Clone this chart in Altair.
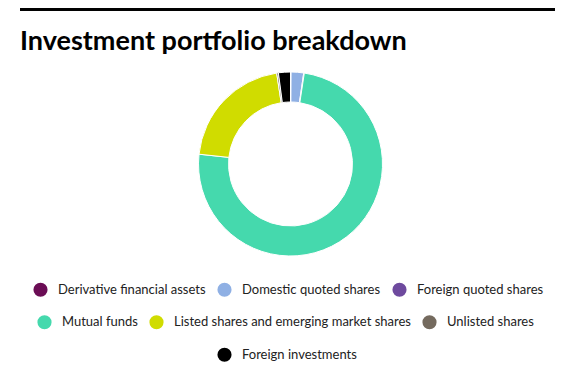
import altair as alt
import pandas as pd

categories = [
    "Derivative financial assets",
    "Domestic quoted shares",
    "Foreign quoted shares",
    "Mutual funds",
    "Listed shares and emerging market shares",
    "Unlisted shares",
    "Foreign investments",
]
values = [0.1, 2.2, 0.1, 74.3, 20.9, 0.3, 2.1]
colors = ["#6b0d55", "#8fb0e4", "#6e4a9e", "#45d9ad", "#d0dc00", "#746a5e", "#000000"]

legend_rows = [categories[0:3], categories[3:6], categories[6:7]]
row_colors = [colors[0:3], colors[3:6], colors[6:7]]
row_x = [25, 29, 209]
row_y = [274, 306.5, 339]

total = sum(values)
df = pd.DataFrame({"category": categories, "value": values, "idx": list(range(len(categories)))})

base = (
    alt.Chart(df)
    .transform_window(cum="sum(value)", sort=[alt.SortField("idx")], frame=[None, 0])
    .transform_calculate(start="datum.cum - datum.value")
)

layers = []
for i, (row, cols) in enumerate(zip(legend_rows, row_colors)):
    layer = (
        base.transform_filter(alt.FieldOneOfPredicate(field="category", oneOf=row))
        .mark_arc(innerRadius=62, outerRadius=92, stroke="white", strokeWidth=1)
        .encode(
            theta=alt.Theta("start:Q", scale=alt.Scale(domain=[0, total])),
            theta2="cum:Q",
            color=alt.Color(
                "category:N",
                scale=alt.Scale(domain=row, range=cols),
                legend=alt.Legend(
                    title=None,
                    orient="none",
                    legendX=row_x[i],
                    legendY=row_y[i],
                    direction="horizontal",
                    columns=3,
                    symbolType="circle",
                    symbolSize=200,
                    symbolStrokeWidth=0,
                    labelFont="Lato",
                    labelFontSize=13,
                    labelColor="#222222",
                    labelOffset=10,
                    labelLimit=400,
                    columnPadding=11,
                ),
            ),
            tooltip=["category:N", "value:Q"],
        )
    )
    layers.append(layer)

rule = alt.Chart(df).mark_rule(color="black", strokeWidth=2).encode(
    x=alt.value(12), x2=alt.value(547), y=alt.value(1.5)
)

chart = (
    alt.layer(rule, *layers)
    .resolve_scale(color="independent")
    .properties(
        width=565,
        height=312,
        padding={"left": 0, "top": 0, "right": 3, "bottom": 45},
        autosize=alt.AutoSizeParams(type="none"),
        title=alt.Title(
            "Investment portfolio breakdown",
            anchor="start",
            offset=-48,
            dx=12,
            font="Lato",
            fontSize=27,
            fontWeight="bold",
            color="black",
        ),
    )
    .configure_view(stroke=None)
)

chart.save("out.html", embed_options={"renderer": "svg", "actions": False})
